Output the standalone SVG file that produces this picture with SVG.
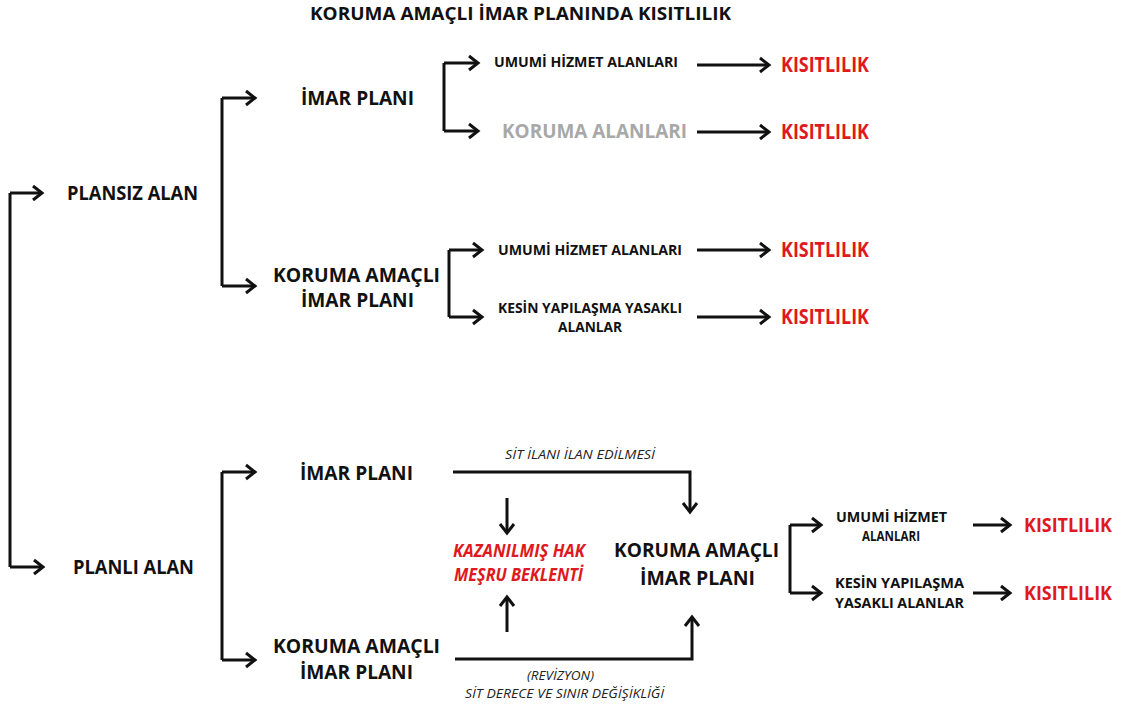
<svg xmlns="http://www.w3.org/2000/svg" width="1123" height="708" viewBox="0 0 1123 708">
  <style>
    text { font-family: "Open Sans", "Noto Sans", "Liberation Sans", sans-serif; font-weight: 700; fill: #111; }
    .title { font-size: 18px; }
    .big { font-size: 19.5px; }
    .small { font-size: 14.5px; }
    .mid { font-size: 15px; }
    .gray { fill: #a8a8a8; font-size: 19px; }
    .red { fill: #e01820; font-size: 21px; }
    .red-edge { fill: #e01820; font-size: 20px; }
    .redit { fill: #e01820; font-size: 17px; font-style: italic; }
    .note { font-size: 12.5px; font-weight: 400; font-style: italic; fill: #222; }
    .wire { fill: none; stroke: #111; stroke-width: 3; stroke-linejoin: miter; marker-end: url(#head); }
    .wire-plain { fill: none; stroke: #111; stroke-width: 3; }
  </style>
  <defs>
    <marker id="head" markerUnits="userSpaceOnUse" viewBox="-12 -9 14 18" markerWidth="14" markerHeight="18" refX="0" refY="0" orient="auto" overflow="visible">
      <path d="M-9,-7 L0,0 L-9,7" fill="none" stroke="#111" stroke-width="3" stroke-linejoin="miter"/>
    </marker>
  </defs>
  <rect width="1123" height="708" fill="#fff"/>

  <text class="title" x="310" y="20" textLength="421" lengthAdjust="spacingAndGlyphs">KORUMA AMAÇLI İMAR PLANINDA KISITLILIK</text>

  <!-- connectors -->
  <g id="connectors">
    <!-- root split -->
    <path class="wire-plain" d="M10,193 L10,567"/>
    <path class="wire" d="M10,193 L42,193"/>
    <path class="wire" d="M10,567 L43,567"/>
    <!-- plansiz alan split -->
    <path class="wire-plain" d="M222,98 L222,286"/>
    <path class="wire" d="M222,98 L255,98"/>
    <path class="wire" d="M222,286 L255,286"/>
    <!-- imar plani split -->
    <path class="wire-plain" d="M444,63 L444,131"/>
    <path class="wire" d="M444,63 L478,63"/>
    <path class="wire" d="M444,131 L478,131"/>
    <!-- koruma amacli split -->
    <path class="wire-plain" d="M449,250 L449,317"/>
    <path class="wire" d="M449,250 L482,250"/>
    <path class="wire" d="M449,317 L482,317"/>
    <!-- to kisitlilik -->
    <path class="wire" d="M697,65 L769,65"/>
    <path class="wire" d="M697,132 L769,132"/>
    <path class="wire" d="M697,250 L769,250"/>
    <path class="wire" d="M697,317 L769,317"/>
    <!-- planli alan split -->
    <path class="wire-plain" d="M222,472 L222,660"/>
    <path class="wire" d="M222,472 L255,472"/>
    <path class="wire" d="M222,660 L255,660"/>
    <!-- transitions to koruma amacli imar plani -->
    <path class="wire" d="M453,472 L690,472 L690,512"/>
    <path class="wire" d="M455,659 L692,659 L692,617"/>
    <!-- acquired rights -->
    <path class="wire" d="M507,498 L507,533"/>
    <path class="wire" d="M507,632 L507,597"/>
    <!-- final split -->
    <path class="wire-plain" d="M790,525 L790,593"/>
    <path class="wire" d="M790,525 L821,525"/>
    <path class="wire" d="M790,593 L821,593"/>
    <path class="wire" d="M973,525 L1010,525"/>
    <path class="wire" d="M973,593 L1010,593"/>
  </g>

  <g id="plansiz-alan"><text class="big" x="67" y="200" textLength="131" lengthAdjust="spacingAndGlyphs">PLANSIZ ALAN</text></g>
  <g id="planli-alan"><text class="big" x="73" y="574" textLength="121" lengthAdjust="spacingAndGlyphs">PLANLI ALAN</text></g>

  <g id="imar-plani-1"><text class="big" x="301" y="105" textLength="113" lengthAdjust="spacingAndGlyphs">İMAR PLANI</text></g>
  <g id="koruma-imar-1">
    <text class="big" x="273" y="282" textLength="167" lengthAdjust="spacingAndGlyphs">KORUMA AMAÇLI</text>
    <text class="big" x="301" y="307" textLength="113" lengthAdjust="spacingAndGlyphs">İMAR PLANI</text>
  </g>

  <g id="umumi-1"><text class="small" x="494" y="67" textLength="184" lengthAdjust="spacingAndGlyphs">UMUMİ HİZMET ALANLARI</text></g>
  <g id="koruma-alanlari"><text class="gray" x="502" y="138" textLength="185" lengthAdjust="spacingAndGlyphs">KORUMA ALANLARI</text></g>
  <g id="umumi-2"><text class="small" x="498" y="255" textLength="184" lengthAdjust="spacingAndGlyphs">UMUMİ HİZMET ALANLARI</text></g>
  <g id="kesin-1">
    <text class="small" x="498" y="313" textLength="184" lengthAdjust="spacingAndGlyphs">KESİN YAPILAŞMA YASAKLI</text>
    <text class="small" x="558" y="332" textLength="64" lengthAdjust="spacingAndGlyphs">ALANLAR</text>
  </g>

  <g id="kisit-1"><text class="red" x="781" y="72" textLength="88" lengthAdjust="spacingAndGlyphs">KISITLILIK</text></g>
  <g id="kisit-2"><text class="red" x="781" y="139" textLength="88" lengthAdjust="spacingAndGlyphs">KISITLILIK</text></g>
  <g id="kisit-3"><text class="red" x="781" y="257" textLength="88" lengthAdjust="spacingAndGlyphs">KISITLILIK</text></g>
  <g id="kisit-4"><text class="red" x="781" y="324" textLength="88" lengthAdjust="spacingAndGlyphs">KISITLILIK</text></g>

  <g id="imar-plani-2"><text class="big" x="300" y="480" textLength="113" lengthAdjust="spacingAndGlyphs">İMAR PLANI</text></g>
  <g id="koruma-imar-2">
    <text class="big" x="273" y="653" textLength="167" lengthAdjust="spacingAndGlyphs">KORUMA AMAÇLI</text>
    <text class="big" x="300" y="679" textLength="113" lengthAdjust="spacingAndGlyphs">İMAR PLANI</text>
  </g>

  <g id="sit-ilani"><text class="note" x="505" y="459" textLength="150" lengthAdjust="spacingAndGlyphs">SİT İLANI İLAN EDİLMESİ</text></g>
  <g id="revizyon">
    <text class="note" x="527" y="680" textLength="67" lengthAdjust="spacingAndGlyphs">(REVİZYON)</text>
    <text class="note" x="465" y="698" textLength="199" lengthAdjust="spacingAndGlyphs">SİT DERECE VE SINIR DEĞİŞİKLİĞİ</text>
  </g>

  <g id="kazanilmis-hak">
    <text class="redit" x="453" y="557" textLength="132" lengthAdjust="spacingAndGlyphs">KAZANILMIŞ HAK</text>
    <text class="redit" x="454" y="581" textLength="129" lengthAdjust="spacingAndGlyphs">MEŞRU BEKLENTİ</text>
  </g>

  <g id="koruma-imar-3">
    <text class="big" x="614" y="557" textLength="165" lengthAdjust="spacingAndGlyphs">KORUMA AMAÇLI</text>
    <text class="big" x="640" y="585" textLength="115" lengthAdjust="spacingAndGlyphs">İMAR PLANI</text>
  </g>

  <g id="umumi-3">
    <text class="mid" x="836" y="522" textLength="111" lengthAdjust="spacingAndGlyphs">UMUMİ HİZMET</text>
    <text class="mid" x="862" y="541" textLength="58" lengthAdjust="spacingAndGlyphs">ALANLARI</text>
  </g>
  <g id="kesin-2">
    <text class="mid" x="835" y="588" textLength="129" lengthAdjust="spacingAndGlyphs">KESİN YAPILAŞMA</text>
    <text class="mid" x="835" y="608" textLength="129" lengthAdjust="spacingAndGlyphs">YASAKLI ALANLAR</text>
  </g>

  <g id="kisit-5"><text class="red-edge" x="1024" y="532" textLength="88" lengthAdjust="spacingAndGlyphs">KISITLILIK</text></g>
  <g id="kisit-6"><text class="red-edge" x="1024" y="600" textLength="88" lengthAdjust="spacingAndGlyphs">KISITLILIK</text></g>
</svg>
